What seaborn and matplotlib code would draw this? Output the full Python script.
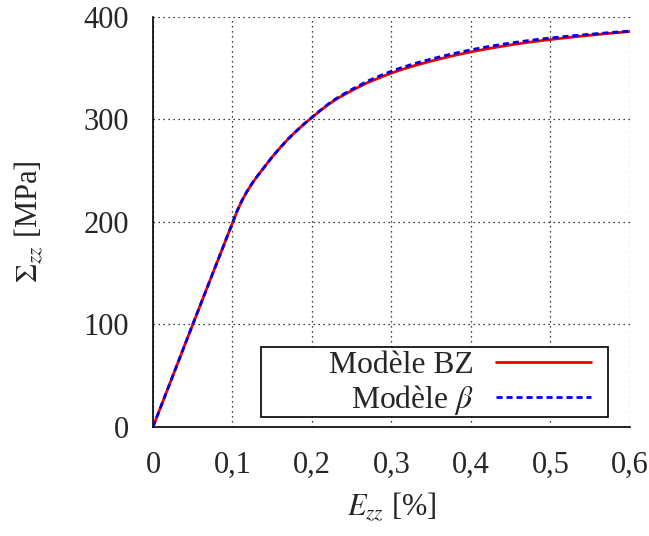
import matplotlib
matplotlib.use('Agg')
import matplotlib.pyplot as plt
import matplotlib.patches as mpatches
import seaborn as sns

# courbes contrainte-deformation
strain = [0, 0.05, 0.1, 0.106, 0.112, 0.118, 0.125, 0.132, 0.14, 0.15, 0.16,
          0.17, 0.18, 0.19, 0.2, 0.21, 0.22, 0.23, 0.24, 0.25, 0.27, 0.29,
          0.3, 0.31, 0.33, 0.35, 0.375, 0.4, 0.425, 0.45, 0.475, 0.5, 0.525,
          0.55, 0.575, 0.6]
stress_bz = [0, 100, 199, 211, 221, 229.5, 238, 245.5, 253.5, 263.5, 272.5,
             281, 288.5, 295.5, 302, 308.3, 314.3, 319.5, 324, 328.2, 336, 342.3,
             345.2, 348, 352.8, 357, 361.8, 366, 369.6, 372.8, 375.6, 378, 380.2,
             382.2, 384.1, 385.8]
stress_beta = [0, 100, 199, 211, 221, 229.5, 238, 245.5, 253.5, 263.5, 272.5,
               281, 288.5, 295.6, 302.2, 308.6, 314.8, 320.2, 324.9, 329.3, 337.5, 344.1,
               347.1, 349.9, 354.8, 359, 363.8, 368, 371.6, 374.6, 377.3, 379.5, 381.5,
               383.2, 384.8, 386.3]

xticks = [0, 0.1, 0.2, 0.3, 0.4, 0.5, 0.6]
xticklabels = ['0', '0,1', '0,2', '0,3', '0,4', '0,5', '0,6']
yticks = [0, 100, 200, 300, 400]

sns.set_style('white')
plt.rcParams['font.family'] = ['Liberation Serif', 'DejaVu Serif']
plt.rcParams['mathtext.fontset'] = 'stix'
plt.rcParams['font.size'] = 22

fig = plt.figure(figsize=(6.49, 5.36), dpi=100)
ax = fig.add_axes([0.2357, 0.2034, 0.735, 0.7649])

sns.lineplot(x=strain, y=stress_bz, ax=ax, color='#ee0000', linewidth=2.0,
             label='Modèle BZ', zorder=3)
sns.lineplot(x=strain, y=stress_beta, ax=ax, color='#0000ee', linewidth=2.0,
             label=r'Modèle $\beta$', zorder=4)
ax.lines[1].set_linestyle((0, (2.2, 1.4)))
for ln in ax.lines:
    ln.set_solid_joinstyle('round')
    ln.set_dash_joinstyle('round')

ax.set_xlim(0, 0.6)
ax.set_ylim(0, 400)
ax.set_xticks(xticks)
ax.set_xticklabels(xticklabels)
ax.set_yticks(yticks)
ax.grid(True, color='black', linestyle=(0, (1, 3)), linewidth=0.9)
ax.set_axisbelow(True)

for side in ['top', 'right']:
    ax.spines[side].set_visible(False)
for side in ['left', 'bottom']:
    ax.spines[side].set_color('black')
    ax.spines[side].set_linewidth(1.2)
ax.tick_params(direction='in', length=8, width=1.1, color='black', pad=17,
               labelsize=22)

ax.set_xlabel(r'$E_{zz}$ [%]', fontsize=22, labelpad=8)
ax.set_ylabel(r'$\Sigma_{zz}$ [MPa]', fontsize=22, labelpad=28)

# cadre de legende style gnuplot (largeur fixe, texte a droite)
box = mpatches.Rectangle((0.226, 0.024), 0.728, 0.171, transform=ax.transAxes,
                         facecolor='white', edgecolor='black', linewidth=1.2,
                         zorder=5)
ax.add_patch(box)
leg = ax.legend(loc='lower right', bbox_to_anchor=(0.925, 0.017),
                markerfirst=False, frameon=False, handlelength=3.0,
                borderpad=0.1, labelspacing=0.1, handletextpad=0.7,
                fontsize=22.8, borderaxespad=0)
leg.set_zorder(6)

fig.savefig('out.png', dpi=100)
